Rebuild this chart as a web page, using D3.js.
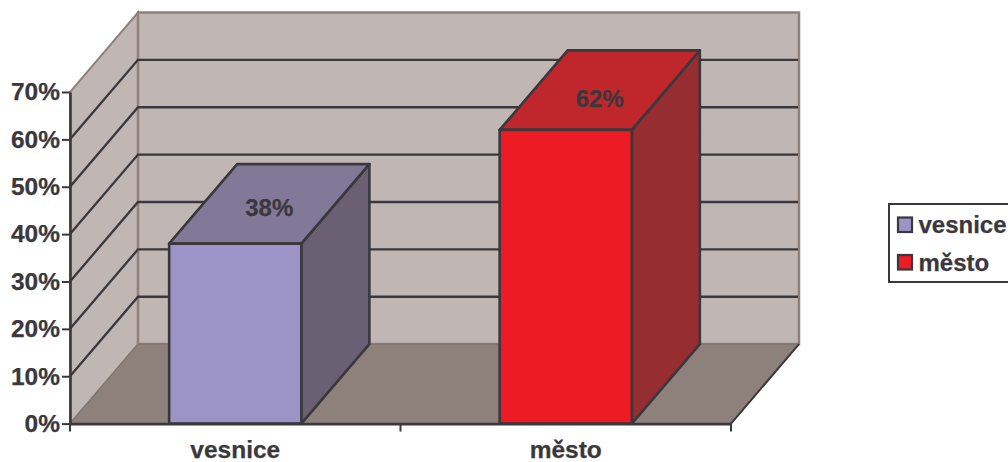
<!DOCTYPE html>
<html>
<head>
<meta charset="utf-8">
<script src="https://cdn.jsdelivr.net/npm/d3@7"></script>
<style>
html,body{margin:0;padding:0;background:#fff;overflow:hidden}
text{font-family:"Liberation Sans",Arial,sans-serif;font-weight:bold;fill:#3a383d;stroke:#3a383d;stroke-width:.25px}
</style>
</head>
<body>
<svg id="chart" width="1008" height="462"></svg>
<script>
// Share of respondents by place of residence
const categories = ["vesnice", "město"];
const shares = [0.38, 0.62];
const yTicks = [0, 0.1, 0.2, 0.3, 0.4, 0.5, 0.6, 0.7];
const faceColors = ["#9c93c6", "#ed1c24"];
const topColors = ["#827898", "#c0272d"];
const sideColors = ["#6b5f73", "#952d31"];

const ink = "#3a383d", wall = "#c0b7b4", floor = "#8e817c";
const depthX = 68, depthY = -79.5;

const svg = d3.select("#chart");
const x = d3.scaleBand().domain(categories).range([70, 731]).paddingInner(0.6).paddingOuter(0.3);
const y = d3.scaleLinear().domain([0, 0.7]).range([423.6, 92]);
// Baselines of the labels printed on the column tops
const labelY = d3.scaleLinear().domain([0, 0.7]).range([388.6, 70.7]);
const poly = pts => pts.map(p => p.join(",")).join(" ");
const back = ([px, py]) => [px + depthX, py + depthY];

const x0 = x.range()[0], x1 = x.range()[1], y0 = y(0), yTop = y(0.7);

// Back and side walls
svg.append("polygon")
  .attr("points", poly([[x0, y0], back([x0, y0]), back([x0, yTop]), [x0, yTop]]))
  .attr("fill", wall).attr("stroke", floor).attr("stroke-width", 2);
svg.append("polygon")
  .attr("points", poly([back([x0, y0]), back([x1, y0]), back([x1, yTop]), back([x0, yTop])]))
  .attr("fill", wall).attr("stroke", floor).attr("stroke-width", 2.5);

// Floor
svg.append("polygon")
  .attr("points", poly([[x0, y0], [x1, y0], back([x1, y0]), back([x0, y0])]))
  .attr("fill", floor).attr("stroke", "#7d716c").attr("stroke-width", 1);
svg.append("line")
  .attr("x1", x1).attr("y1", y0).attr("x2", x1 + depthX).attr("y2", y0 + depthY)
  .attr("stroke", ink).attr("stroke-width", 2);

// Gridlines running along both walls
const grid = svg.append("g").attr("fill", "none").attr("stroke", ink).attr("stroke-width", 2.3);
yTicks.filter(t => t > 0 && t < 0.7).forEach(t => {
  const a = [x0, y(t)], b = back(a), c = back([x1 - 1, y(t)]);
  grid.append("polyline").attr("points", poly([a, b, c]));
});

// Three-dimensional columns
const bars = svg.append("g").selectAll("g")
  .data(categories.map((c, i) => ({c, v: shares[i], i})))
  .join("g")
  .attr("stroke", ink).attr("stroke-width", 2.6).attr("stroke-linejoin", "round");
bars.append("polygon")
  .attr("fill", d => sideColors[d.i])
  .attr("points", d => {
    const r = x(d.c) + x.bandwidth();
    return poly([[r, y0], back([r, y0]), back([r, y(d.v)]), [r, y(d.v)]]);
  });
bars.append("polygon")
  .attr("fill", d => topColors[d.i])
  .attr("points", d => {
    const l = x(d.c), r = l + x.bandwidth(), t = y(d.v);
    return poly([[l, t], [r, t], back([r, t]), back([l, t])]);
  });
bars.append("rect")
  .attr("fill", d => faceColors[d.i])
  .attr("x", d => x(d.c)).attr("y", d => y(d.v))
  .attr("width", x.bandwidth()).attr("height", d => y0 - y(d.v));

// Value labels sit on the column tops
svg.append("g").selectAll("text")
  .data(categories.map((c, i) => ({c, v: shares[i]})))
  .join("text")
  .attr("x", d => x(d.c) + x.bandwidth() / 2 + depthX / 2)
  .attr("y", d => labelY(d.v))
  .attr("text-anchor", "middle")
  .attr("font-size", 24)
  .text(d => d3.format(".0%")(d.v));

// Axes
const yAxis = svg.append("g").attr("transform", `translate(${x0},0)`)
  .call(d3.axisLeft(y).tickValues(yTicks).tickFormat(d3.format(".0%")).tickSize(8).tickSizeOuter(0).tickPadding(2));
const xAxis = svg.append("g").attr("transform", `translate(0,${y0})`)
  .call(d3.axisBottom(x).tickSize(0).tickPadding(17));
xAxis.selectAll(".tick line").remove();
xAxis.append("g").selectAll("line")
  .data([x0, (x0 + x1) / 2, x1])
  .join("line")
  .attr("x1", d => d).attr("x2", d => d).attr("y1", 0).attr("y2", 8)
  .attr("stroke", ink).attr("stroke-width", 2);
[yAxis, xAxis].forEach(a => {
  a.selectAll(".domain").attr("stroke", ink).attr("stroke-width", 2.6);
  a.selectAll(".tick line").attr("stroke", ink).attr("stroke-width", 2);
  a.selectAll("text").attr("font-size", 24.5).attr("font-family", null).attr("fill", ink);
});

// Legend, running off the right edge of the page
const legend = svg.append("g");
legend.append("rect")
  .attr("x", 889).attr("y", 204).attr("width", 130).attr("height", 78)
  .attr("fill", "#fff").attr("stroke", ink).attr("stroke-width", 2);
const rows = legend.selectAll("g").data(categories).join("g")
  .attr("transform", (d, i) => `translate(0,${225 + i * 37.5})`);
rows.append("rect")
  .attr("x", 898).attr("y", -7.5).attr("width", 14).attr("height", 14.5)
  .attr("fill", (d, i) => faceColors[i]).attr("stroke", ink).attr("stroke-width", 2.2);
rows.append("text")
  .attr("x", 918.5).attr("y", 8).attr("font-size", 24).text(d => d);
</script>
</body>
</html>
